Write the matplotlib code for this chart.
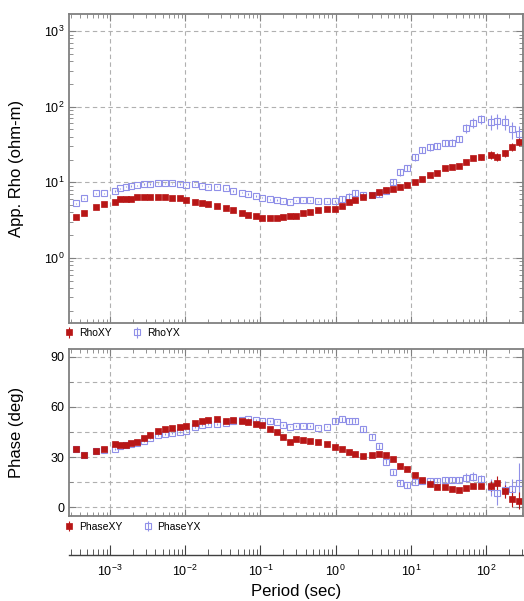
import numpy as np
import matplotlib
matplotlib.use("Agg")
import matplotlib.pyplot as plt
from matplotlib.ticker import LogLocator, MultipleLocator, NullFormatter, FixedLocator

plt.rcParams["font.family"] = ["Liberation Sans", "DejaVu Sans"]
plt.rcParams["mathtext.fontset"] = "custom"
plt.rcParams["mathtext.rm"] = "Liberation Sans"
plt.rcParams["mathtext.it"] = "Liberation Sans:italic"

# ---- data ----
period = [3.50e-4, 4.51e-4, 6.46e-4, 8.24e-4, 1.155e-3, 1.346e-3, 1.648e-3, 1.90e-3, 2.26e-3, 2.83e-3,
          3.44e-3, 4.31e-3, 5.38e-3, 6.73e-3, 8.45e-3, 1.035e-2, 1.35e-2, 1.66e-2, 2.03e-2, 2.62e-2,
          3.46e-2, 4.37e-2, 5.64e-2, 6.90e-2, 8.66e-2, 0.106, 0.134, 0.165, 0.202, 0.248,
          0.294, 0.371, 0.457, 0.589, 0.762, 0.98, 1.205, 1.52, 1.81, 2.33,
          3.02, 3.78, 4.68, 5.85, 7.18, 8.98, 11.4, 14.2, 18.0, 22.1,
          28.5, 35.0, 43.8, 53.7, 67.8, 85.1, 116, 141, 179, 220, 272]

rho_xy = [3.52, 3.97, 4.69, 5.13, 5.56, 5.98, 6.09, 6.09, 6.41, 6.47,
          6.41, 6.41, 6.41, 6.28, 6.16, 5.80, 5.56, 5.39, 5.18, 4.87,
          4.54, 4.31, 3.97, 3.71, 3.59, 3.41, 3.38, 3.35, 3.45, 3.59,
          3.63, 3.90, 4.10, 4.31, 4.41, 4.49, 4.87, 5.56, 5.85, 6.35,
          6.81, 7.54, 7.93, 8.11, 8.61, 9.24, 10.1, 11.1, 12.5, 13.4,
          15.4, 16.1, 16.6, 18.8, 20.8, 21.5, 23.0, 21.9, 24.3, 29.7, 34.2]

rho_yx = [5.29, 6.16, 7.17, 7.17, 7.70, 8.36, 8.77, 8.96, 9.16, 9.52,
          9.52, 9.73, 9.73, 9.73, 9.52, 9.32, 9.44, 9.04, 8.77, 8.77,
          8.36, 7.70, 7.31, 7.03, 6.61, 6.28, 5.98, 5.85, 5.62, 5.56,
          5.75, 5.78, 5.80, 5.62, 5.62, 5.68, 5.98, 6.47, 7.17, 6.81,
          6.81, 7.03, 7.77, 10.1, 13.6, 15.6, 21.4, 26.8, 29.1, 30.3,
          33.2, 33.5, 37.5, 52.0, 61.6, 68.5, 63.4, 65.5, 63.4, 50.4, 44.1]

# relative errors on apparent resistivity
rho_xy_rel = [0.02] * 54 + [0.06, 0.08, 0.12, 0.12, 0.10, 0.12, 0.12]
rho_yx_rel = [0.02] * 36 + [0.10] * 17 + [0.14, 0.14, 0.15, 0.22, 0.22, 0.22, 0.25, 0.25]

phase_xy = [35.0, 31.0, 33.4, 35.0, 38.0, 37.0, 37.2, 38.4, 39.0, 41.4,
            43.5, 45.7, 46.8, 47.5, 48.3, 48.8, 50.7, 51.9, 52.3, 52.7,
            51.7, 52.3, 51.9, 51.1, 49.9, 49.1, 46.8, 45.0, 42.3, 39.2,
            41.0, 40.3, 39.4, 39.0, 38.0, 35.8, 34.8, 32.8, 31.8, 30.4,
            31.0, 31.8, 31.4, 29.0, 24.9, 23.1, 19.1, 16.5, 14.0, 12.2,
            12.2, 11.0, 10.6, 11.7, 12.9, 12.9, 12.5, 14.6, 9.5, 5.0, 4.0]

phase_yx = [35.0, 31.5, 33.8, 34.5, 35.0, 36.5, 37.0, 38.0, 38.5, 39.8,
            41.4, 43.4, 44.0, 44.4, 45.0, 45.9, 47.9, 49.3, 49.9, 49.9,
            50.7, 51.9, 52.3, 52.7, 52.3, 51.9, 51.7, 51.3, 49.3, 48.3,
            48.7, 48.9, 48.7, 47.7, 48.3, 51.9, 52.7, 51.7, 51.9, 46.8,
            42.3, 36.4, 27.4, 21.1, 14.7, 13.2, 15.2, 15.7, 15.5, 15.9,
            16.5, 16.5, 16.5, 17.8, 18.4, 16.8, 12.0, 8.5, 10.5, 11.0, 14.5]

phase_xy_err = [0.5] * 56 + [3.0, 4.0, 4.0, 5.0, 5.0]
phase_yx_err = [0.5] * 35 + [1.5] * 18 + [2.5, 2.5, 2.5, 5.0, 7.0, 5.0, 6.0, 12.0]

decades = [1e-3, 1e-2, 1e-1, 1e0, 1e1, 1e2]

RED = "#b81616"
BLUE = "#9090e8"
SPINE = "#808080"
GRID = "#b0b0b0"

period = np.array(period)

W, H = 524, 601
fig = plt.figure(figsize=(W / 100, H / 100), dpi=100)
left, right = 69 / W, 523 / W
ax_rho = fig.add_axes([left, 1 - 323 / H, right - left, (323 - 14) / H])
ax_ph = fig.add_axes([left, 1 - 515.7 / H, right - left, (515.7 - 349.3) / H])
ax_x = fig.add_axes([left, 1 - 555 / H, right - left, 0.0001])

xlim = (2.85e-4, 310)


def style_axes(ax):
    for sp in ax.spines.values():
        sp.set_color(SPINE)
        sp.set_linewidth(1.3)
    ax.tick_params(which="both", direction="in", top=True, right=True,
                   color=SPINE, labelsize=9)
    ax.tick_params(which="major", length=5, width=0.8)
    ax.tick_params(which="minor", length=3, width=0.6)
    ax.set_xscale("log")
    ax.set_xlim(*xlim)
    ax.xaxis.set_major_locator(FixedLocator(decades))
    ax.xaxis.set_minor_locator(LogLocator(base=10, subs=np.arange(2, 10), numticks=20))
    ax.xaxis.set_major_formatter(NullFormatter())
    ax.xaxis.set_minor_formatter(NullFormatter())


# ---- apparent resistivity ----
style_axes(ax_rho)
ax_rho.set_yscale("log")
ax_rho.set_ylim(0.138, 1680)
ax_rho.yaxis.set_major_locator(FixedLocator([1e0, 1e1, 1e2, 1e3]))
ax_rho.yaxis.set_minor_locator(LogLocator(base=10, subs=np.arange(2, 10), numticks=20))
ax_rho.yaxis.set_minor_formatter(NullFormatter())
ax_rho.grid(True, which="major", ls=(0, (4, 3)), color=GRID, lw=0.8)

h_yx = ax_rho.errorbar(period, rho_yx, yerr=np.array(rho_yx) * np.array(rho_yx_rel),
                       fmt="s", ms=4.6, mfc="none", mec=BLUE, mew=0.8,
                       ecolor=BLUE, elinewidth=0.8, capsize=0)
h_xy = ax_rho.errorbar(period, rho_xy, yerr=np.array(rho_xy) * np.array(rho_xy_rel),
                       fmt="s", ms=4.4, mfc=RED, mec=RED, mew=0.5,
                       ecolor=RED, elinewidth=0.8, capsize=0)
ax_rho.set_ylabel("App. Rho (ohm-m)", fontsize=12)
ax_rho.yaxis.set_label_coords(-0.10, 0.5)
ax_rho.legend([h_xy, h_yx], ["RhoXY", "RhoYX"], loc="upper left",
              bbox_to_anchor=(-0.02, -0.003), ncol=2, frameon=False,
              fontsize=7.5, handlelength=0.9, handletextpad=0.5,
              columnspacing=2.0, borderaxespad=0)

# ---- phase ----
style_axes(ax_ph)
ax_ph.set_ylim(-5, 94.5)
ax_ph.yaxis.set_major_locator(MultipleLocator(30))
ax_ph.yaxis.set_minor_locator(MultipleLocator(15))
ax_ph.grid(True, axis="x", which="major", ls=(0, (4, 3)), color=GRID, lw=0.8)
ax_ph.grid(True, axis="y", which="both", ls=(0, (4, 3)), color=GRID, lw=0.8)

p_yx = ax_ph.errorbar(period, phase_yx, yerr=phase_yx_err,
                      fmt="s", ms=4.6, mfc="none", mec=BLUE, mew=0.8,
                      ecolor=BLUE, elinewidth=0.8, capsize=0)
p_xy = ax_ph.errorbar(period, phase_xy, yerr=phase_xy_err,
                      fmt="s", ms=4.4, mfc=RED, mec=RED, mew=0.5,
                      ecolor=RED, elinewidth=0.8, capsize=0)
ax_ph.set_ylabel("Phase (deg)", fontsize=12)
ax_ph.yaxis.set_label_coords(-0.10, 0.5)
ax_ph.legend([p_xy, p_yx], ["PhaseXY", "PhaseYX"], loc="upper left",
             bbox_to_anchor=(-0.02, -0.01), ncol=2, frameon=False,
             fontsize=7.5, handlelength=0.9, handletextpad=0.5,
             columnspacing=2.0, borderaxespad=0)

# ---- shared period axis ----
ax_x.set_xscale("log")
ax_x.set_xlim(*xlim)
for name in ("top", "left", "right"):
    ax_x.spines[name].set_visible(False)
ax_x.spines["bottom"].set_color("#404040")
ax_x.spines["bottom"].set_linewidth(1.0)
ax_x.set_yticks([])
ax_x.patch.set_visible(False)
ax_x.xaxis.set_major_locator(FixedLocator(decades))
ax_x.xaxis.set_minor_locator(LogLocator(base=10, subs=np.arange(2, 10), numticks=20))
ax_x.xaxis.set_minor_formatter(NullFormatter())
ax_x.tick_params(which="both", direction="in", color="#404040", labelsize=9, pad=6)
ax_x.tick_params(which="major", length=7, width=0.8)
ax_x.tick_params(which="minor", length=4, width=0.6)
ax_x.set_xlabel("Period (sec)", fontsize=12, labelpad=4)

fig.savefig("out.png", dpi=100)
